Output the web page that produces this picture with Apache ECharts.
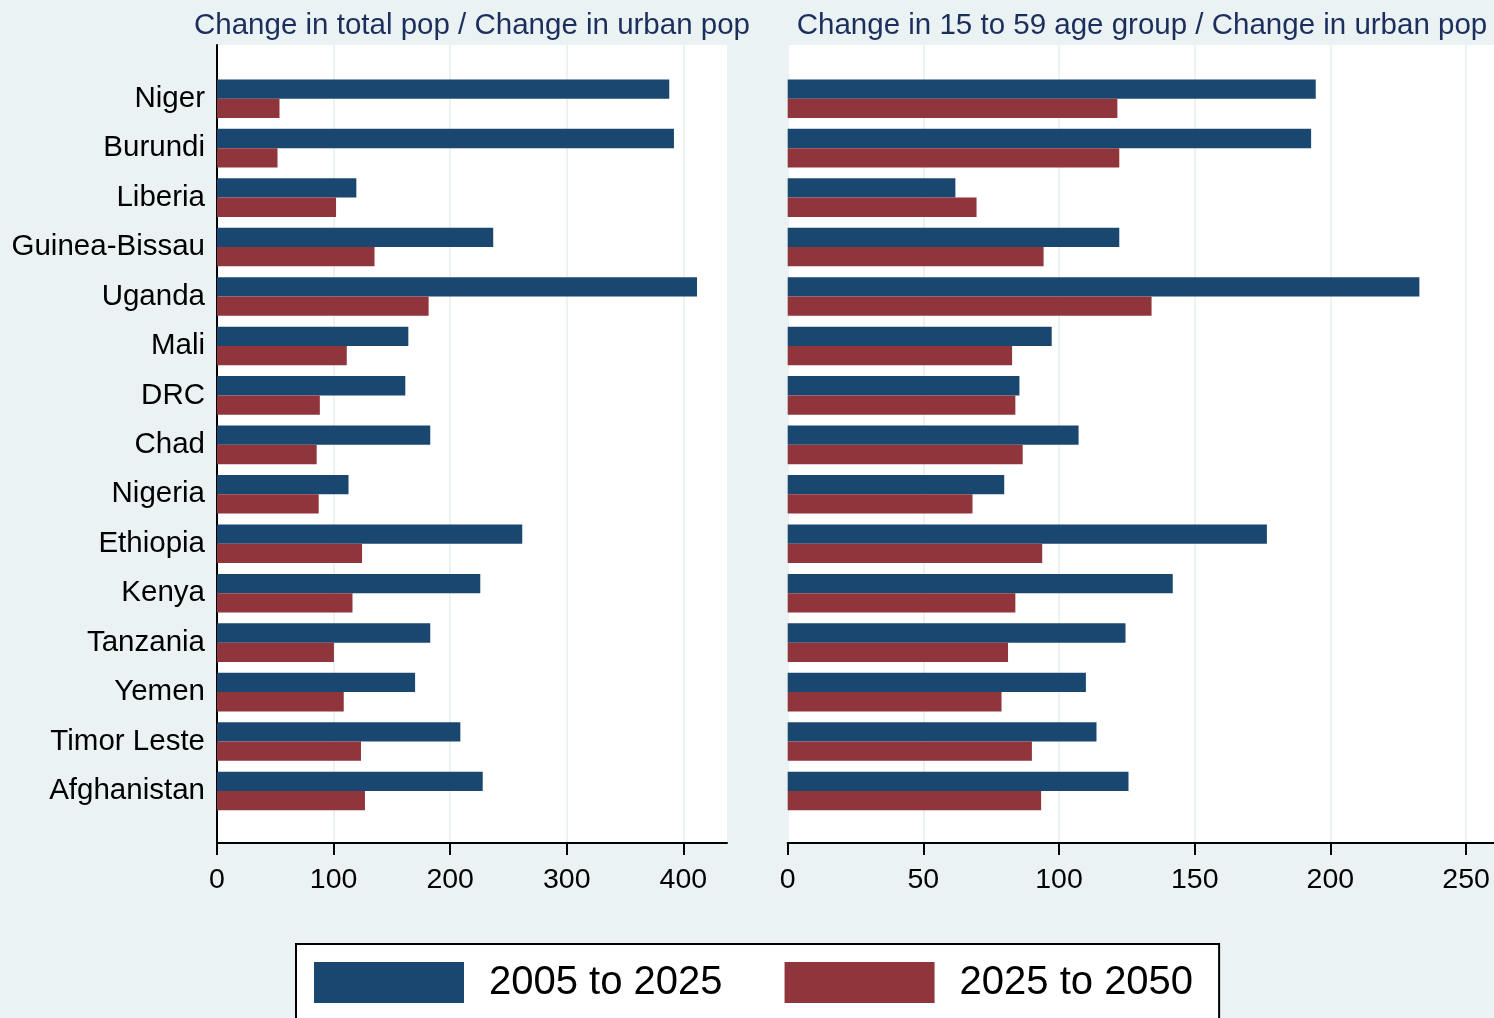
<!DOCTYPE html>
<html>
<head>
<meta charset="utf-8">
<title>Population change ratios</title>
<script src="https://cdn.jsdelivr.net/npm/echarts@6.0.0/dist/echarts.min.js"></script>
<style>
  html, body { margin: 0; padding: 0; background: #eaf2f3; }
  #mychart { width: 1494px; height: 1018px; }
</style>
</head>
<body>
<div id="mychart"></div>
<script>
// countries, top to bottom
const countries = ['Niger', 'Burundi', 'Liberia', 'Guinea-Bissau', 'Uganda', 'Mali', 'DRC', 'Chad',
  'Nigeria', 'Ethiopia', 'Kenya', 'Tanzania', 'Yemen', 'Timor Leste', 'Afghanistan']

// change in total pop / change in urban pop
const totalEarly = [387.9, 391.9, 119.5, 236.9, 411.7, 164.1, 161.5, 182.9, 112.8, 261.8, 225.8, 182.9, 169.9, 208.7, 227.9]
const totalLate = [53.6, 51.9, 102.1, 135.1, 181.5, 111.3, 88.2, 85.5, 87.2, 124.4, 116.2, 100.3, 108.7, 123.5, 126.9]

// change in 15 to 59 age group / change in urban pop
const ageEarly = [194.6, 192.9, 61.8, 122.2, 232.8, 97.3, 85.4, 107.2, 79.8, 176.6, 141.9, 124.5, 109.9, 113.8, 125.6]
const ageLate = [121.5, 122.2, 69.6, 94.3, 134.1, 82.7, 83.9, 86.6, 68.1, 93.8, 83.9, 81.2, 78.8, 90.0, 93.4]

const leftTicks = [0, 100, 200, 300, 400]
const rightTicks = [0, 50, 100, 150, 200, 250]

const periods = ['2005 to 2025', '2025 to 2050']
const colors = ['#1a476f', '#90353b']

const font = '"Liberation Sans", Arial, sans-serif'
const bgColor = '#eaf2f3'

const chart = echarts.init(document.getElementById('mychart'))

function bgXAxis(grid, max, ticks) {
  return {
    type: 'value',
    gridIndex: grid,
    min: 0,
    max: max,
    splitLine: { show: true, lineStyle: { color: bgColor, width: 2 } },
    axisLine: { show: true, lineStyle: { color: '#000', width: 2 } },
    axisTick: { show: true, length: 12, lineStyle: { color: '#000', width: 2 }, customValues: ticks },
    axisLabel: { fontSize: 28.5, color: '#000', fontFamily: font, margin: 23, customValues: ticks }
  }
}

function barXAxis(grid, max) {
  return { type: 'value', gridIndex: grid, min: 0, max: max, show: false }
}

function barSeries(name, xi, data, color) {
  return {
    name: name,
    type: 'bar',
    xAxisIndex: xi,
    yAxisIndex: xi,
    data: data,
    barWidth: 19.3,
    barGap: '0%',
    itemStyle: { color: color },
    silent: true
  }
}

const titleStyle = { fontSize: 29.5, fontWeight: 'normal', color: '#1c2f5c', fontFamily: font }

const option = {
  backgroundColor: bgColor,
  animation: false,
  textStyle: { fontFamily: font },
  title: [
    {
      text: 'Change in total pop / Change in urban pop',
      left: 467,
      top: 6,
      textAlign: 'center',
      textStyle: titleStyle
    },
    {
      text: 'Change in 15 to 59 age group / Change in urban pop',
      left: 1137,
      top: 6,
      textAlign: 'center',
      textStyle: titleStyle
    }
  ],
  legend: {
    data: periods,
    left: 296,
    top: 944,
    orient: 'horizontal',
    icon: 'rect',
    itemWidth: 150,
    itemHeight: 41,
    itemGap: 62,
    padding: [18, 26, 40, 18],
    backgroundColor: '#fff',
    borderColor: '#000',
    borderWidth: 2,
    textStyle: { fontSize: 40, color: '#000', fontFamily: font, padding: [10, 0, 0, 20] }
  },
  grid: [
    { left: 217, width: 510, top: 45, height: 798, show: true, backgroundColor: '#fff', borderWidth: 0 },
    { left: 217, width: 510, top: 74, height: 741.7 },
    { left: 787.7, width: 706.3, top: 45, height: 798, show: true, backgroundColor: '#fff', borderWidth: 0 },
    { left: 787.7, width: 706.3, top: 74, height: 741.7 }
  ],
  xAxis: [
    bgXAxis(0, 437.4, leftTicks),
    barXAxis(1, 437.4),
    bgXAxis(2, 260.3, rightTicks),
    barXAxis(3, 260.3)
  ],
  yAxis: [
    {
      type: 'value', gridIndex: 0, min: 0, max: 1,
      axisLine: { show: true, lineStyle: { color: '#000', width: 2 } },
      axisTick: { show: false }, axisLabel: { show: false }, splitLine: { show: false }
    },
    {
      type: 'category', gridIndex: 1, data: countries, inverse: true,
      axisLine: { show: false }, axisTick: { show: false },
      axisLabel: { fontSize: 29.5, color: '#000', fontFamily: font, margin: 12, padding: [9, 0, 0, 0] }
    },
    { type: 'value', gridIndex: 2, min: 0, max: 1, show: false },
    { type: 'category', gridIndex: 3, data: countries, inverse: true, show: false }
  ],
  series: [
    barSeries(periods[0], 1, totalEarly, colors[0]),
    barSeries(periods[1], 1, totalLate, colors[1]),
    barSeries(periods[0], 3, ageEarly, colors[0]),
    barSeries(periods[1], 3, ageLate, colors[1])
  ]
}

chart.setOption(option)
</script>
</body>
</html>
